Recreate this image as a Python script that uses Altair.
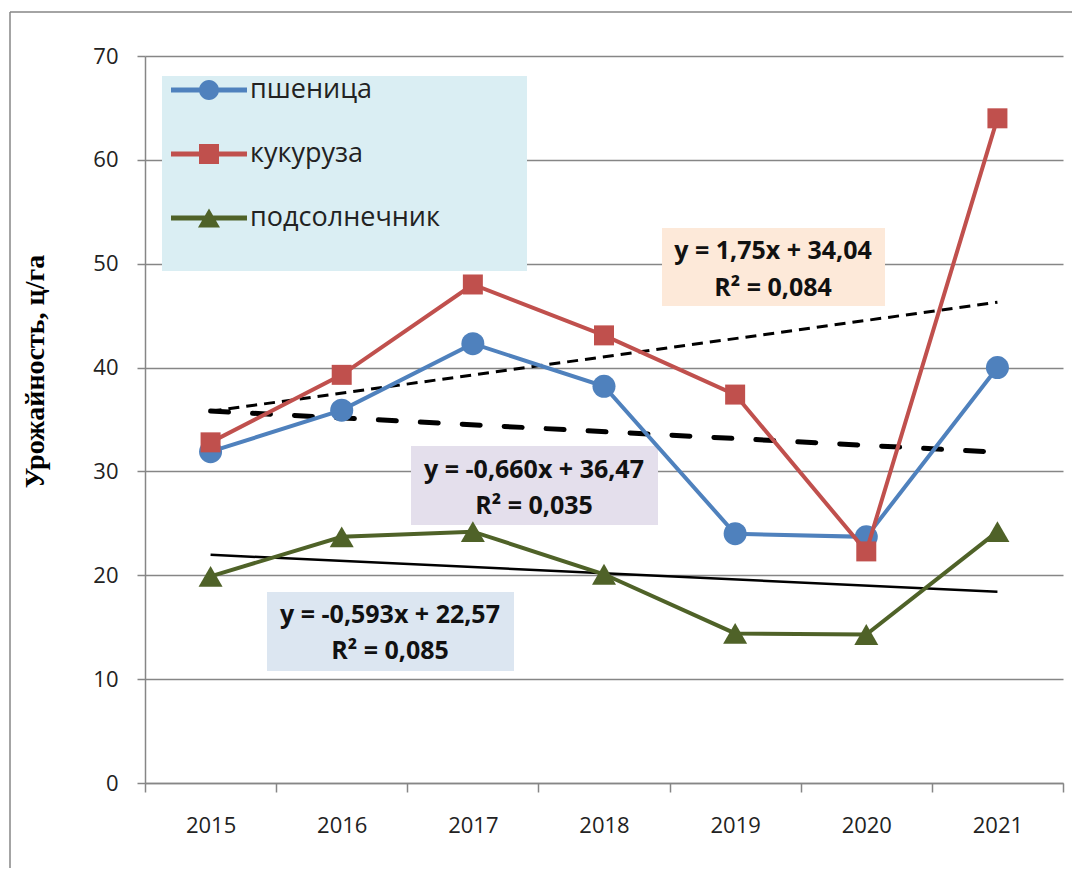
import altair as alt
import pandas as pd

# ---- data ----
years = ["2015", "2016", "2017", "2018", "2019", "2020", "2021"]
series_names = ["пшеница", "кукуруза", "подсолнечник"]
wheat = [31.9, 35.9, 42.3, 38.2, 24.0, 23.7, 40.0]
corn = [32.8, 39.3, 48.0, 43.1, 37.4, 22.3, 64.0]
sunflower = [19.9, 23.7, 24.2, 20.1, 14.4, 14.3, 24.2]
trend_slope = [-0.660, 1.75, -0.593]
trend_intercept = [36.47, 34.04, 22.57]
trend_r2 = [0.035, 0.084, 0.085]
y_ticks = [0, 10, 20, 30, 40, 50, 60, 70]
y_title = "Урожайность, ц/га"

# ---- styles ----
colors = ["#4f81bd", "#c0504d", "#4f6228"]
shapes = ["circle", "square", "triangle-up"]
marker_sizes = [529, 400, 576]
FONT = "Open Sans"
TXT = "#222222"
GRID = "#868686"

rows = []
for name, vals in zip(series_names, [wheat, corn, sunflower]):
    for yr, v in zip(years, vals):
        rows.append({"year": yr, "series": name, "value": v})
df = pd.DataFrame(rows)

trend_rows = []
for name, a, b in zip(series_names, trend_slope, trend_intercept):
    for idx in (1, len(years)):
        trend_rows.append({"year": years[idx - 1], "series": name, "value": a * idx + b})
tdf = pd.DataFrame(trend_rows)

x_enc = alt.X(
    "year:O",
    sort=years,
    scale=alt.Scale(type="band", domain=years, paddingInner=0, paddingOuter=0),
    bandPosition=0.5,
    title=None,
    axis=alt.Axis(
        tickBand="extent", grid=False, labelAngle=0, domainColor=GRID, domainWidth=1.5,
        tickColor=GRID, tickWidth=1.5, tickSize=9, labelFont=FONT, labelFontSize=22,
        labelColor=TXT, labelPadding=23,
    ),
)
y_enc = alt.Y(
    "value:Q",
    scale=alt.Scale(domain=[0, 70], nice=False, zero=True),
    axis=alt.Axis(
        values=y_ticks, grid=True, gridColor=GRID, gridWidth=1.5, domainColor=GRID,
        domainWidth=1.5, tickColor=GRID, tickWidth=1.5, tickSize=8, labelFont=FONT,
        labelFontSize=22, labelColor=TXT, labelPadding=19,
        title=y_title, titleFont="Liberation Serif", titleFontWeight="bold",
        titleFontSize=28, titleColor="#000000", titleX=-96, titleY=315,
        titleAlign="center", titleBaseline="bottom", titleAngle=270,
    ),
)

one = pd.DataFrame({"k": [0]})

def box(x1, x2, y1, y2, fill):
    return alt.Chart(one).mark_rect(fill=fill).encode(
        x=alt.value(x1), x2=alt.value(x2), y=alt.value(y1), y2=alt.value(y2)
    )

def label(text, x, y, size=25):
    return alt.Chart(one).mark_text(
        text=text, font=FONT, fontSize=size, fontWeight="bold", color="#111111",
        align="center", baseline="middle",
    ).encode(x=alt.value(x), y=alt.value(y))

def fmt(v, spec):
    return format(v, spec).replace(".", ",")

layers = []
# outer chart frame (top and left edges; the rest lies outside the picture)
layers.append(
    alt.Chart(one).mark_rule(color=GRID, strokeWidth=1.5)
    .encode(x=alt.value(-135), x2=alt.value(927), y=alt.value(-44))
)
layers.append(
    alt.Chart(one).mark_rule(color=GRID, strokeWidth=1.5)
    .encode(x=alt.value(-135), y=alt.value(-44), y2=alt.value(812))
)
# legend background
layers.append(box(17, 382, 20, 215, "#daeef3"))

# equation boxes: (rect x1, x2, y1, y2, text cx, line1 y, line2 y, fill)
eq_boxes = {
    "пшеница": (266, 513, 390, 469, 389, 414, 450, "#e4dfec"),
    "кукуруза": (517, 740, 172, 250, 628, 195, 232, "#fde9d9"),
    "подсолнечник": (122, 369, 536, 615, 245, 559, 595, "#dce6f1"),
}
for name, a, b, r2 in zip(series_names, trend_slope, trend_intercept, trend_r2):
    x1, x2, y1, y2, cx, l1, l2, fill = eq_boxes[name]
    sign = "+" if b >= 0 else "-"
    layers.append(box(x1, x2, y1, y2, fill))
    layers.append(label(f"y = {fmt(a, '#.3g')}x {sign} {fmt(abs(b), '.2f')}", cx, l1))
    layers.append(label(f"R² = {fmt(r2, '.3f')}", cx, l2))

# trend lines
trend_styles = {
    "пшеница": dict(strokeDash=[18, 24], strokeWidth=5, strokeCap="round"),
    "кукуруза": dict(strokeDash=[11, 7], strokeWidth=3),
    "подсолнечник": dict(strokeWidth=2.5),
}
for name in series_names:
    layers.append(
        alt.Chart(tdf).transform_filter(alt.datum.series == name)
        .mark_line(color="#000000", **trend_styles[name])
        .encode(x=x_enc, y=y_enc)
    )

# series lines and markers
for name, c, shp, sz in zip(series_names, colors, shapes, marker_sizes):
    sub = alt.Chart(df).transform_filter(alt.datum.series == name)
    layers.append(sub.mark_line(color=c, strokeWidth=4).encode(x=x_enc, y=y_enc))
    layers.append(
        sub.mark_point(color=c, shape=shp, size=sz, filled=True, opacity=1)
        .encode(x=x_enc, y=y_enc)
    )

# legend (custom line+marker symbols)
cx = 0.2667
r = 0.333
line_path = "M-1,-0.083 L1.533,-0.083 L1.533,0.083 L-1,0.083 Z"
circle_path = f"M{cx + r},0 A{r},{r} 0 1,1 {cx - r},0 A{r},{r} 0 1,1 {cx + r},0 Z"
square_path = f"M{cx - r},{-r} L{cx + r},{-r} L{cx + r},{r} L{cx - r},{r} Z"
tri_path = f"M{cx},-0.317 L{cx + 0.367},0.317 L{cx - 0.367},0.317 Z"
legend_shapes = [line_path + " " + circle_path, line_path + " " + square_path, line_path + " " + tri_path]

leg = alt.Legend(
    orient="none", legendX=26, legendY=4, title=None, labelFont=FONT, labelFontSize=27,
    labelColor=TXT, labelLimit=0, symbolSize=3600, symbolStrokeWidth=0, symbolOpacity=1,
    rowPadding=21, labelOffset=19, padding=0,
)
layers.append(
    alt.Chart(df).transform_filter(alt.datum.value < 0)
    .mark_point(filled=True)
    .encode(
        x=x_enc, y=y_enc,
        color=alt.Color("series:N", scale=alt.Scale(domain=series_names, range=colors), legend=leg),
        shape=alt.Shape("series:N", scale=alt.Scale(domain=series_names, range=legend_shapes), legend=leg),
    )
)

chart = alt.layer(*layers).properties(
    width=918, height=727,
    padding={"left": 137, "top": 48, "right": 9, "bottom": 85},
    autosize=alt.AutoSizeParams(type="none"),
    background="white",
).configure_view(stroke=None)

chart.save("out.html", embed_options={"renderer": "svg", "actions": False})
